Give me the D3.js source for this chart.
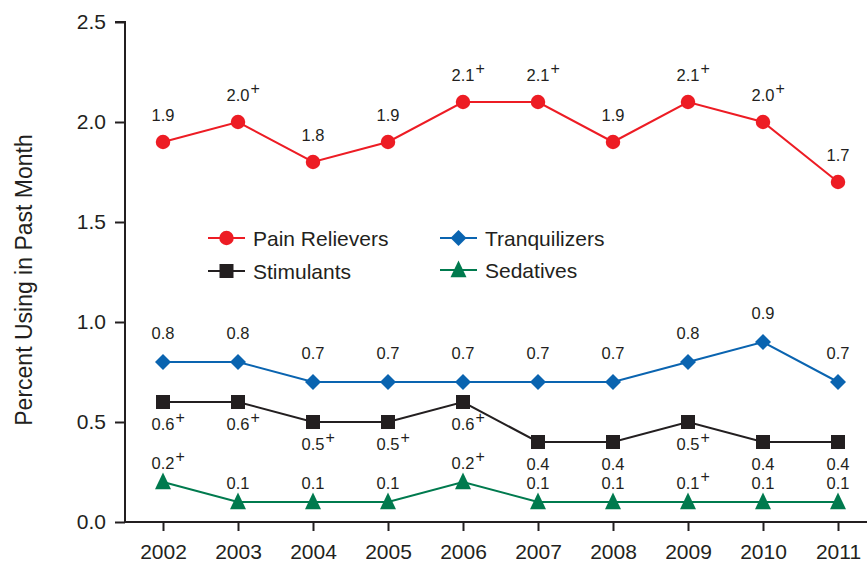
<!DOCTYPE html>
<html><head><meta charset="utf-8">
<script src="https://cdn.jsdelivr.net/npm/d3@7"></script>
<style>body{margin:0;background:#fff}svg{display:block;font-family:Arial,"Liberation Sans",sans-serif}</style>
</head><body>
<svg id="c" width="867" height="564"></svg>
<script>
const years = [2002,2003,2004,2005,2006,2007,2008,2009,2010,2011];
const painRelievers = [1.9,2.0,1.8,1.9,2.1,2.1,1.9,2.1,2.0,1.7];
const painSig = [false,true,false,false,true,true,false,true,true,false];
const tranquilizers = [0.8,0.8,0.7,0.7,0.7,0.7,0.7,0.8,0.9,0.7];
const tranqSig = [false,false,false,false,false,false,false,false,false,false];
const stimulants = [0.6,0.6,0.5,0.5,0.6,0.4,0.4,0.5,0.4,0.4];
const stimSig = [true,true,true,true,true,false,false,true,false,false];
const sedatives = [0.2,0.1,0.1,0.1,0.2,0.1,0.1,0.1,0.1,0.1];
const sedSig = [true,false,false,false,true,false,false,true,false,false];
const yTicks = [0,0.5,1.0,1.5,2.0,2.5];

const diamond = {draw(ctx,size){const r=Math.sqrt(size/2);ctx.moveTo(0,-r);ctx.lineTo(r,0);ctx.lineTo(0,r);ctx.lineTo(-r,0);ctx.closePath();}};
const tri = {draw(ctx,size){const h=Math.sqrt(size);ctx.moveTo(0,-h*0.6);ctx.lineTo(h*0.5,h*0.45);ctx.lineTo(-h*0.5,h*0.45);ctx.closePath();}};

const series = [
  {name:"Pain Relievers", values:painRelievers, sig:painSig, color:"#ed1c24", shape:d3.symbolCircle, size:165, labelDy:-21},
  {name:"Tranquilizers", values:tranquilizers, sig:tranqSig, color:"#0a64b0", shape:diamond, size:128, labelDy:-23},
  {name:"Stimulants", values:stimulants, sig:stimSig, color:"#231f20", shape:d3.symbolSquare, size:196, labelDy:28},
  {name:"Sedatives", values:sedatives, sig:sedSig, color:"#007a4e", shape:tri, size:256, labelDy:-13}
];

const svg = d3.select("#c");
const x = d3.scalePoint().domain(years).range([163,838]);
const y = d3.scaleLinear().domain([0,2.5]).range([522,22]);

// y axis
const yAxis = svg.append("g").attr("transform","translate(125,0)")
  .call(d3.axisLeft(y).tickValues(yTicks).tickFormat(d3.format(".1f")).tickSize(10).tickPadding(9));
yAxis.select(".domain").attr("stroke","#231f20").attr("stroke-width",2).attr("d","M-10,"+y(2.5)+"H0V"+y(0));
yAxis.selectAll(".tick line").attr("stroke","#231f20").attr("stroke-width",2);
yAxis.selectAll(".tick text").attr("font-size",21).attr("fill","#231f20").attr("font-family","Arial,'Liberation Sans',sans-serif");

// x axis
const xAxis = svg.append("g").attr("transform","translate(0,522)")
  .call(d3.axisBottom(x).tickSize(9).tickPadding(13));
xAxis.select(".domain").attr("stroke","#231f20").attr("stroke-width",2).attr("d","M125,0H867");
xAxis.selectAll(".tick line").attr("stroke","#231f20").attr("stroke-width",2);
xAxis.selectAll(".tick text").attr("font-size",21).attr("fill","#231f20").attr("font-family","Arial,'Liberation Sans',sans-serif");

// y title
svg.append("text").attr("transform","translate(32,280) rotate(-90)")
  .attr("text-anchor","middle").attr("font-size",23).attr("fill","#231f20")
  .text("Percent Using in Past Month");

const line = d3.line().x((d,i)=>x(years[i])).y(d=>y(d));

series.forEach(s=>{
  svg.append("path").datum(s.values).attr("d",line).attr("fill","none")
    .attr("stroke",s.color).attr("stroke-width",2);
  svg.selectAll(null).data(s.values).enter().append("path")
    .attr("transform",(d,i)=>`translate(${x(years[i])},${y(d)})`)
    .attr("d",d3.symbol().type(s.shape).size(s.size)).attr("fill",s.color);
  s.values.forEach((v,i)=>{
    const tx = x(years[i]), ty = y(v)+s.labelDy;
    const t = svg.append("text").attr("x",tx).attr("y",ty).attr("text-anchor","middle")
      .attr("font-size",16.5).attr("fill","#231f20").text(v.toFixed(1));
    if(s.sig[i]){
      const w = t.node().getComputedTextLength();
      svg.append("text").attr("x",tx+w/2+1).attr("y",ty-7).attr("font-size",16)
        .attr("fill","#231f20").text("+");
    }
  });
});

// legend
const legend = [
  {s:series[0], lx:208, ly:238},
  {s:series[1], lx:440, ly:238},
  {s:series[2], lx:208, ly:271},
  {s:series[3], lx:440, ly:270}
];
legend.forEach(l=>{
  const g = svg.append("g");
  g.append("line").attr("x1",l.lx).attr("x2",l.lx+37).attr("y1",l.ly).attr("y2",l.ly)
    .attr("stroke",l.s.color).attr("stroke-width",2);
  g.append("path").attr("transform",`translate(${l.lx+18.5},${l.ly})`)
    .attr("d",d3.symbol().type(l.s.shape).size(l.s.size)).attr("fill",l.s.color);
  g.append("text").attr("x",l.lx+45).attr("y",l.ly+8).attr("font-size",21)
    .attr("fill","#231f20").text(l.s.name);
});
</script>
</body></html>
